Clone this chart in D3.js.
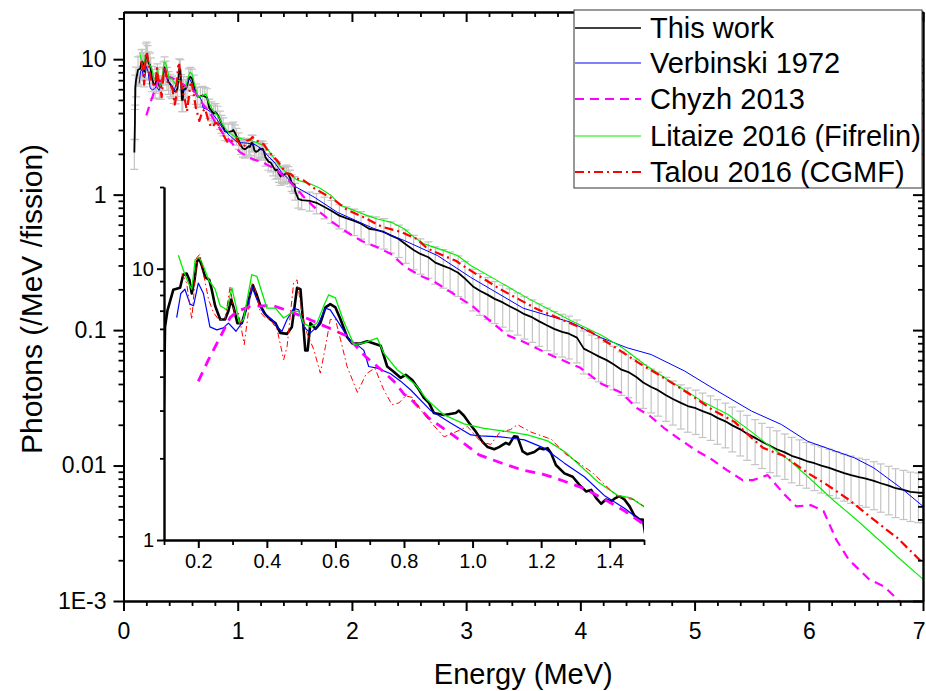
<!DOCTYPE html>
<html><head><meta charset="utf-8">
<script src="https://cdn.jsdelivr.net/npm/d3@7"></script>
<style>body{margin:0;background:#fff} text{font-family:"Liberation Sans",Arial,sans-serif}</style>
</head><body>
<svg id="c" width="926" height="691"></svg>
<script>
// ---------- DATA (energy MeV, photons /MeV /fission) ----------
const thisWork = [[0.095,2.05],[0.100,3.4],[0.103,6.1],[0.110,7.0],[0.127,8.36],[0.147,8.5],[0.156,9.5],[0.166,9.6],[0.174,9.1],[0.181,8.1],[0.189,9.1],[0.196,10.6],[0.203,10.9],[0.210,10.3],[0.220,9.3],[0.232,9.1],[0.239,8.4],[0.249,7.3],[0.264,6.5],[0.278,6.5],[0.288,7.0],[0.296,7.7],[0.303,7.2],[0.314,6.3],[0.327,6.3],[0.342,7.3],[0.351,8.0],[0.359,8.7],[0.369,8.1],[0.381,7.3],[0.395,6.8],[0.410,6.5],[0.425,6.3],[0.439,5.8],[0.459,5.75],[0.473,6.1],[0.488,8.5],[0.498,8.4],[0.505,6.5],[0.512,5.0],[0.519,5.0],[0.527,6.3],[0.542,6.0],[0.556,6.3],[0.571,7.2],[0.585,7.4],[0.600,7.2],[0.615,6.5],[0.634,5.6],[0.649,5.3],[0.673,5.3],[0.693,5.4],[0.712,5.3],[0.732,5.2],[0.751,4.36],[0.770,4.17],[0.790,3.96],[0.805,4.06],[0.824,3.89],[0.844,3.58],[0.858,3.34],[0.873,3.20],[0.887,2.94],[0.917,2.89],[0.951,2.94],[0.960,3.0],[0.975,2.87],[0.990,2.7],[1.009,2.51],[1.029,2.3],[1.044,2.2],[1.063,2.16],[1.077,2.2],[1.097,2.28],[1.107,2.25],[1.121,2.41],[1.131,2.4],[1.146,2.12],[1.160,2.07],[1.180,2.11],[1.195,2.18],[1.207,2.16],[1.219,2.18],[1.229,2.09],[1.243,1.89],[1.268,1.76],[1.292,1.71],[1.311,1.60],[1.331,1.51],[1.346,1.53],[1.360,1.43],[1.375,1.36],[1.389,1.41],[1.404,1.39],[1.414,1.42],[1.428,1.45],[1.443,1.41],[1.458,1.33],[1.472,1.23],[1.487,1.19],[1.497,1.19],[1.503,1.06],
[1.53,0.93],[1.56,0.91],[1.63,0.90],[1.69,0.87],[1.76,0.81],[1.82,0.76],[1.89,0.70],[1.95,0.67],[2.02,0.64],[2.08,0.61],[2.15,0.56],[2.21,0.55],[2.28,0.53],[2.34,0.50],[2.41,0.47],[2.47,0.43],[2.54,0.39],[2.60,0.365],[2.67,0.345],[2.73,0.315],[2.80,0.298],[2.86,0.285],[2.93,0.265],[2.99,0.24],[3.06,0.21],[3.12,0.195],[3.19,0.182],[3.25,0.170],[3.32,0.160],[3.38,0.150],[3.45,0.140],[3.51,0.131],[3.58,0.124],[3.64,0.116],[3.71,0.108],[3.77,0.102],[3.84,0.097],[3.90,0.094],[3.97,0.088],[4.03,0.073],[4.10,0.068],[4.16,0.064],[4.23,0.060],[4.29,0.056],[4.36,0.051],[4.42,0.049],[4.49,0.045],[4.55,0.041],[4.62,0.038],[4.68,0.036],[4.75,0.033],[4.81,0.031],[4.88,0.029],[4.94,0.0275],[5.01,0.0265],[5.07,0.0252],[5.14,0.0240],[5.20,0.0225],[5.27,0.0212],[5.33,0.0198],[5.40,0.0185],[5.46,0.0172],[5.53,0.0160],[5.59,0.0150],[5.66,0.0140],[5.72,0.0132],[5.79,0.0125],[5.85,0.0118],[5.92,0.0113],[5.98,0.0108],[6.05,0.0104],[6.11,0.0100],[6.18,0.0096],[6.24,0.0092],[6.31,0.0088],[6.37,0.0085],[6.44,0.0082],[6.50,0.0080],[6.57,0.0077],[6.63,0.0074],[6.70,0.0071],[6.76,0.0068],[6.83,0.0066],[6.89,0.0064],[6.96,0.0063],[7.0,0.0063]];

// relative uncertainty of "This work" (read from error-bar lengths)
const errKnotE   = [0.1, 0.3, 1.0, 1.5, 2.0, 2.5, 3.0, 4.0, 5.0, 6.0, 7.0];
const errKnotRel = [0.25, 0.2, 0.14, 0.14, 0.22, 0.28, 0.34, 0.35, 0.36, 0.37, 0.40];

const verbinski = [[0.137,6.6],[0.149,8.1],[0.161,8.4],[0.176,7.4],[0.186,7.3],[0.200,8.85],[0.215,8.1],[0.234,6.1],[0.254,5.95],[0.273,6.05],[0.288,6.3],[0.310,5.88],[0.327,6.3],[0.346,7.47],[0.356,8.6],[0.371,7.7],[0.390,6.87],[0.415,6.5],[0.430,6.1],[0.444,5.88],[0.459,6.5],[0.478,7.15],[0.493,7.05],[0.507,6.1],[0.527,5.8],[0.546,6.1],[0.571,7.15],[0.585,7.05],[0.610,6.3],[0.644,5.4],[0.663,5.25],[0.683,5.0],[0.697,4.36],[0.722,4.3],[0.761,4.1],[0.790,3.85],[0.819,3.58],[0.878,3.0],[0.936,2.7],[0.995,2.44],[1.024,2.42],[1.082,2.4],[1.151,2.34],[1.209,2.18],[1.268,1.92],[1.326,1.71],[1.384,1.46],[1.443,1.31],[1.501,1.15],[1.668,0.96],[1.873,0.74],[2.165,0.575],[2.457,0.459],[2.749,0.355],[3.04,0.245],[3.5,0.145],[3.92,0.114],[4.18,0.088],[4.41,0.074],[4.62,0.066],[4.91,0.050],[5.2,0.0355],[5.5,0.0252],[5.76,0.0201],[5.99,0.0151],[6.23,0.0128],[6.4,0.0114],[6.57,0.0096],[6.81,0.0068],[7.0,0.005]];

const chyzh = [[0.200,3.84],[0.229,4.6],[0.264,5.6],[0.293,6.6],[0.313,6.96],[0.35,7.25],[0.415,7.33],[0.447,7.1],[0.50,6.7],[0.583,6.03],[0.632,5.66],[0.688,4.74],[0.732,4.26],[0.770,3.85],[0.80,3.45],[0.827,3.24],[0.873,2.81],[0.946,2.42],[1.019,2.06],[1.080,1.93],[1.146,1.81],[1.204,1.75],[1.248,1.68],[1.324,1.55],[1.377,1.43],[1.443,1.28],[1.492,1.16],[1.60,0.92],[1.70,0.766],[1.82,0.634],[1.96,0.526],[2.09,0.453],[2.19,0.42],[2.34,0.366],[2.47,0.291],[2.60,0.252],[2.72,0.228],[2.87,0.19],[2.98,0.165],[3.04,0.154],[3.23,0.113],[3.37,0.091],[3.5,0.082],[3.72,0.0667],[3.89,0.0576],[4.0,0.0527],[4.18,0.0404],[4.36,0.0345],[4.49,0.0267],[4.61,0.0232],[4.73,0.019],[4.87,0.0156],[5.01,0.013],[5.15,0.0111],[5.28,0.0093],[5.42,0.0078],[5.51,0.0078],[5.64,0.0085],[5.78,0.0062],[5.89,0.005],[6.02,0.0051],[6.13,0.0046],[6.24,0.00284],[6.35,0.00202],[6.53,0.00144],[6.66,0.00128],[6.78,0.00102],[6.9,0.0008],[7.0,0.0007]];

const litaize = [[0.142,11.2],[0.156,9.9],[0.171,8.86],[0.181,8.4],[0.191,10.8],[0.203,11.0],[0.215,10.2],[0.230,9.1],[0.249,8.4],[0.264,7.3],[0.283,7.06],[0.298,8.5],[0.308,7.47],[0.320,6.3],[0.332,6.5],[0.356,9.5],[0.371,9.36],[0.400,7.16],[0.425,7.16],[0.449,6.58],[0.478,6.96],[0.493,6.96],[0.507,6.3],[0.527,6.1],[0.546,6.3],[0.566,7.3],[0.580,8.0],[0.600,7.8],[0.624,6.4],[0.654,5.25],[0.683,5.33],[0.722,5.55],[0.741,4.88],[0.780,4.24],[0.80,4.06],[0.834,3.73],[0.868,3.28],[0.917,2.89],[0.975,2.68],[1.034,2.58],[1.102,2.51],[1.16,2.44],[1.219,2.32],[1.268,2.12],[1.316,1.87],[1.365,1.64],[1.423,1.46],[1.462,1.43],[1.506,1.31],[1.522,1.28],[1.639,1.2],[1.726,1.11],[1.814,0.99],[1.902,0.83],[2.02,0.765],[2.136,0.70],[2.223,0.66],[2.34,0.627],[2.457,0.56],[2.544,0.485],[2.632,0.433],[2.807,0.386],[2.924,0.355],[3.04,0.30],[3.3,0.225],[3.55,0.17],[3.92,0.117],[4.18,0.092],[4.36,0.075],[4.56,0.056],[4.765,0.043],[4.94,0.035],[5.06,0.030],[5.29,0.0239],[5.47,0.0185],[5.64,0.0143],[5.82,0.0111],[5.99,0.0083],[6.225,0.00545],[6.4,0.0041],[6.63,0.00275],[6.81,0.002],[7.0,0.00145]];

const talou = [[0.152,9.6],[0.166,8.85],[0.181,6.5],[0.196,11.0],[0.205,11.3],[0.215,9.6],[0.230,7.7],[0.244,6.9],[0.259,6.5],[0.278,6.5],[0.293,8.6],[0.303,7.06],[0.317,6.9],[0.334,5.25],[0.346,6.9],[0.356,8.85],[0.366,8.4],[0.381,6.9],[0.395,6.6],[0.410,6.5],[0.430,5.96],[0.449,4.62],[0.459,5.17],[0.478,8.85],[0.488,9.1],[0.502,6.9],[0.517,5.78],[0.537,5.03],[0.556,4.12],[0.571,5.17],[0.585,6.5],[0.600,6.5],[0.615,5.47],[0.634,4.36],[0.664,3.5],[0.690,4.1],[0.715,4.3],[0.740,3.6],[0.765,3.15],[0.785,3.2],[0.805,3.4],[0.825,3.35],[0.850,3.0],[0.880,2.7],[0.917,2.4],[0.950,2.5],[0.985,2.62],[1.024,2.3],[1.053,2.25],[1.08,2.5],[1.11,2.55],[1.131,2.66],[1.17,2.5],[1.23,2.35],[1.268,2.09],[1.31,1.92],[1.35,1.77],[1.385,1.6],[1.425,1.44],[1.47,1.41],[1.50,1.33],[1.58,1.27],[1.68,1.10],[1.84,0.92],[1.95,0.78],[2.12,0.67],[2.26,0.58],[2.43,0.53],[2.57,0.47],[2.66,0.40],[2.8,0.355],[2.91,0.325],[3.01,0.285],[3.3,0.2],[3.62,0.143],[4.09,0.097],[4.3,0.075],[4.5,0.058],[4.7,0.046],[4.95,0.034],[5.15,0.026],[5.35,0.021],[5.5,0.016],[5.6,0.0135],[5.78,0.0118],[6.0,0.0087],[6.15,0.0073],[6.35,0.0056],[6.6,0.0038],[6.78,0.0029],[7.0,0.0019]];

const legendLabels = ["This work","Verbinski 1972","Chyzh 2013","Litaize 2016 (Fifrelin)","Talou 2016 (CGMF)"];
const xTicks = [0,1,2,3,4,5,6,7];
const xTickLabels = ["0","1","2","3","4","5","6","7"];
const yTicks = [1e-3,1e-2,1e-1,1,10];
const yTickLabels = ["1E-3","0.01","0.1","1","10"];
const insetXTicks = [0.2,0.4,0.6,0.8,1.0,1.2,1.4];
const insetXTickLabels = ["0.2","0.4","0.6","0.8","1.0","1.2","1.4"];
const insetYTicks = [1,10];
const insetYTickLabels = ["1","10"];

// ---------- CHART ----------
const svg = d3.select("#c");
const M = {l:123.5, r:923, t:12, b:601};
const x = d3.scaleLinear().domain([0,7]).range([M.l, M.r]);
const y = d3.scaleLog().domain([1e-3, 22.3]).range([M.b, M.t]);
const I = {l:164, r:644, t:187, b:540};
const xi = d3.scaleLinear().domain([0.1,1.5]).range([I.l, I.r]);
const yi = d3.scaleLog().domain([1,20]).range([I.b, I.t]);

const defs = svg.append("defs");
defs.append("clipPath").attr("id","cm").append("rect").attr("x",M.l).attr("y",M.t).attr("width",M.r-M.l).attr("height",M.b-M.t);
defs.append("clipPath").attr("id","ci").append("rect").attr("x",I.l).attr("y",I.t-2).attr("width",I.r-I.l).attr("height",I.b-I.t+2);

const styles = {
  verb:{c:"#0000ff", wm:1, wi:1.2, dm:null, di:null},
  chy:{c:"#ff00ff", wm:2.2, wi:2.8, dm:"9,6", di:"10,7"},
  lit:{c:"#00ee00", wm:1.1, wi:1.3, dm:null, di:null},
  tal:{c:"#ff0000", wm:2.2, wi:1, dm:"9,4,2,4", di:"6,3,1.5,3"},
  tw:{c:"#000000", wm:1.8, wi:2.6, dm:null, di:null}
};

// main plot
const gm = svg.append("g").attr("clip-path","url(#cm)");
const relErr = d3.scaleLinear().domain(errKnotE).range(errKnotRel).clamp(true);
const eb = gm.append("g").attr("stroke","#c4c4c4").attr("stroke-width",1.2).attr("fill","none");
thisWork.forEach(([e,v])=>{
  const r = relErr(e), lo = v*(1-r), hi = v*(1+r), xc = x(e);
  eb.append("line").attr("x1",xc).attr("x2",xc).attr("y1",y(lo)).attr("y2",y(hi));
  eb.append("line").attr("x1",xc-4).attr("x2",xc+4).attr("y1",y(lo)).attr("y2",y(lo));
  eb.append("line").attr("x1",xc-4).attr("x2",xc+4).attr("y1",y(hi)).attr("y2",y(hi));
});
const lm = d3.line().x(d=>x(d[0])).y(d=>y(d[1]));
function drawMain(data, s){
  gm.append("path").datum(data).attr("d",lm).attr("fill","none").attr("stroke",s.c)
    .attr("stroke-width",s.wm).attr("stroke-dasharray",s.dm).attr("stroke-linejoin","round");
}
drawMain(thisWork, styles.tw);
drawMain(verbinski, styles.verb);
drawMain(chyzh, styles.chy);
drawMain(litaize, styles.lit);
drawMain(talou, styles.tal);

// main axes
function styleAxis(g, w, fs){
  g.select(".domain").attr("stroke","#000").attr("stroke-width",w);
  g.selectAll(".tick line").attr("stroke","#000").attr("stroke-width",w);
  g.selectAll(".tick text").attr("fill","#000").style("font-size",fs+"px");
}
const decades = [1e-3,1e-2,1e-1,1,10];
const yMinor = [];
decades.forEach(d=>{ for(let m=2;m<=9;m++){ const v=m*d; if(v<=22.3) yMinor.push(v);} });
const xMinor = [];
for(let i=0;i<=35;i++){ if(i%5!==0) xMinor.push(i*0.2); }

let g;
g = svg.append("g").attr("transform",`translate(0,${M.b})`).call(d3.axisBottom(x).tickValues(xMinor).tickSize(5).tickSizeOuter(0).tickFormat(""));
styleAxis(g,1.8,23);
g = svg.append("g").attr("transform",`translate(0,${M.b})`).call(d3.axisBottom(x).tickValues(xTicks).tickSize(10).tickSizeOuter(0).tickPadding(12).tickFormat((d,i)=>xTickLabels[i]));
styleAxis(g,2,23);
g.selectAll(".tick text").filter((d,i)=>i===xTicks.length-1).attr("text-anchor","end").attr("dx","2");
g = svg.append("g").attr("transform",`translate(0,${M.t})`).call(d3.axisTop(x).tickValues(xMinor).tickSize(-5).tickSizeOuter(0).tickFormat(""));
styleAxis(g,1.8,23);
g = svg.append("g").attr("transform",`translate(0,${M.t})`).call(d3.axisTop(x).tickValues(xTicks).tickSize(-10).tickSizeOuter(0).tickFormat(""));
styleAxis(g,2,23);
g = svg.append("g").attr("transform",`translate(${M.l},0)`).call(d3.axisLeft(y).tickValues(yMinor).tickSize(5).tickSizeOuter(0).tickFormat(""));
styleAxis(g,1.8,23);
g = svg.append("g").attr("transform",`translate(${M.l},0)`).call(d3.axisLeft(y).tickValues(yTicks).tickSize(10).tickSizeOuter(0).tickPadding(7).tickFormat((d,i)=>yTickLabels[i]));
styleAxis(g,2,23);
g = svg.append("g").attr("transform",`translate(${M.r},0)`).call(d3.axisRight(y).tickValues(yMinor).tickSize(-5).tickSizeOuter(0).tickFormat(""));
styleAxis(g,1.8,23);
g = svg.append("g").attr("transform",`translate(${M.r},0)`).call(d3.axisRight(y).tickValues(yTicks).tickSize(-10).tickSizeOuter(0).tickFormat(""));
styleAxis(g,2,23);

svg.append("text").attr("x",(M.l+M.r)/2).attr("y",684).attr("text-anchor","middle").style("font-size","29px").text("Energy (MeV)");
svg.append("text").attr("transform","translate(42,299) rotate(-90)").attr("text-anchor","middle").style("font-size","30px").text("Photons (/MeV /fission)");

// inset
const gi = svg.append("g").attr("clip-path","url(#ci)");
const li = d3.line().x(d=>xi(d[0])).y(d=>yi(d[1]));
function drawInset(data, s){
  gi.append("path").datum(data).attr("d",li).attr("fill","none").attr("stroke",s.c)
    .attr("stroke-width",s.wi).attr("stroke-dasharray",s.di).attr("stroke-linejoin","round");
}
drawInset(thisWork, styles.tw);
drawInset(verbinski, styles.verb);
drawInset(chyzh, styles.chy);
drawInset(litaize, styles.lit);
drawInset(talou, styles.tal);

const ixMinor = [0.1,0.3,0.5,0.7,0.9,1.1,1.3,1.5];
const iyMinor = [2,3,4,5,6,7,8,9,20];
g = svg.append("g").attr("transform",`translate(0,${I.b})`).call(d3.axisBottom(xi).tickValues(ixMinor).tickSize(5).tickSizeOuter(0).tickFormat(""));
styleAxis(g,1.8,20);
g = svg.append("g").attr("transform",`translate(0,${I.b})`).call(d3.axisBottom(xi).tickValues(insetXTicks).tickSize(8).tickSizeOuter(0).tickPadding(6).tickFormat((d,i)=>insetXTickLabels[i]));
styleAxis(g,2,20);
g = svg.append("g").attr("transform",`translate(${I.l},0)`).call(d3.axisLeft(yi).tickValues(iyMinor).tickSize(4).tickSizeOuter(0).tickFormat(""));
styleAxis(g,1.8,20);
g = svg.append("g").attr("transform",`translate(${I.l},0)`).call(d3.axisLeft(yi).tickValues(insetYTicks).tickSize(7).tickSizeOuter(0).tickPadding(3).tickFormat((d,i)=>insetYTickLabels[i]));
styleAxis(g,2,20);

// legend
const lg = svg.append("g");
lg.append("rect").attr("x",574).attr("y",10).attr("width",348).attr("height",178).attr("fill","#fff").attr("stroke","#333").attr("stroke-width",1);
const rows = [28,63,99,136,172];
const legStyles = [styles.tw, styles.verb, styles.chy, styles.lit, styles.tal];
legendLabels.forEach((t,i)=>{
  const s = legStyles[i];
  lg.append("line").attr("x1",575).attr("x2",641).attr("y1",rows[i]).attr("y2",rows[i])
    .attr("stroke",s.c).attr("stroke-width",Math.max(1,s.wm*0.9)).attr("stroke-dasharray",s.dm);
  lg.append("text").attr("x",650).attr("y",rows[i]+10).style("font-size","29px").text(t);
});
</script>
</body></html>
